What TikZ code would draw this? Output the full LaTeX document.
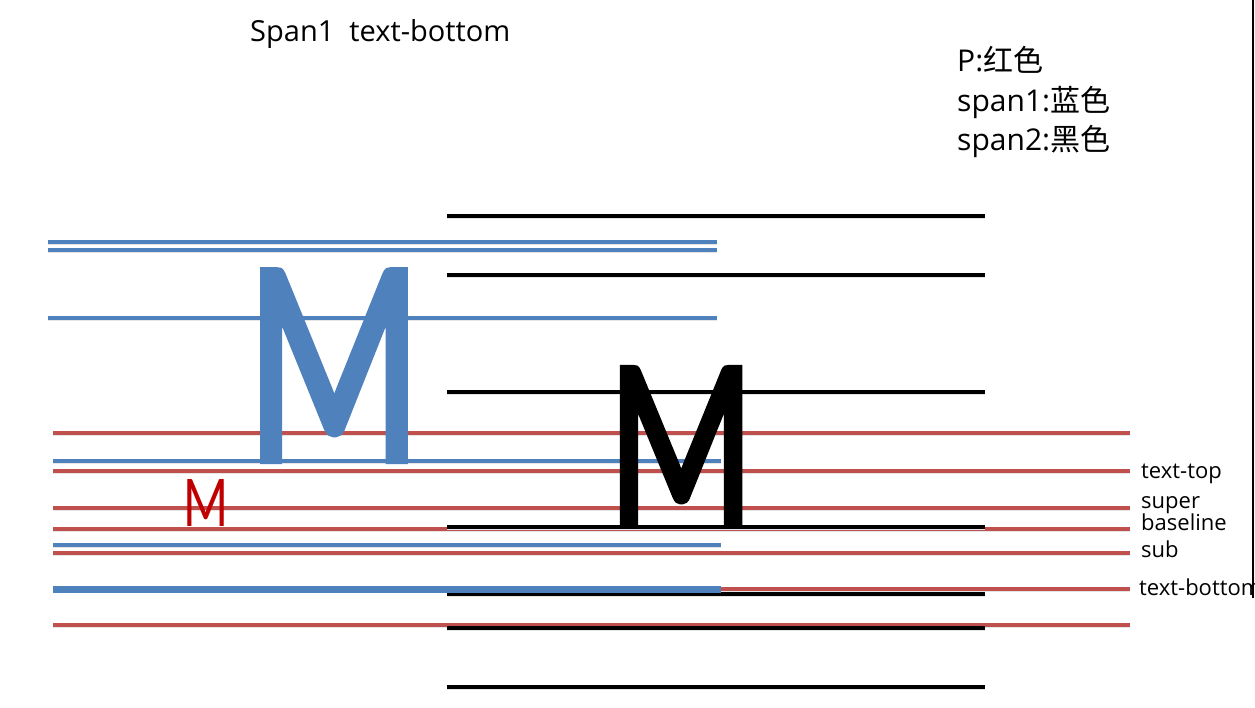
\documentclass[tikz,border=0pt]{standalone}
\usepackage{graphicx}
\usepackage{fontspec}
\setmainfont{Open Sans}
\newfontfamily\cjk{Noto Sans CJK SC}
\newfontfamily\glyphfont{Carlito}
\newfontfamily\glyphheavy{Carlito}[FakeBold=3]
\definecolor{spanblue}{HTML}{4F81BD}
\definecolor{pred}{HTML}{C0504D}
\definecolor{mred}{HTML}{C00000}
\tikzset{
  shadowed/.style={preaction={draw=black!10,transform canvas={yshift=-2.5pt}}},
  pline/.style={draw=pred,line width=3.5pt,shadowed},
  spanline/.style={draw=spanblue,line width=3.5pt,shadowed},
  blackline/.style={draw=black,line width=4pt,shadowed},
  levellabel/.style={anchor=base west,inner sep=0pt,font=\fontsize{22}{26}\selectfont},
  legend/.style={anchor=base west,inner sep=0pt,font=\fontsize{30}{36}\selectfont}
}
\begin{document}
\begin{tikzpicture}[x=1pt,y=-1pt,line cap=butt]
  \useasboundingbox (0,0) rectangle (1255,708);
  % red lines of P
  \foreach \y in {433,471,508,529,553,589,625}
    \draw[pline] (53,\y) -- (1130,\y);
  % black lines of span2
  \foreach \y in {216,275,392,527,594,628,687}
    \draw[blackline] (447,\y) -- (985,\y);
  % blue lines of span1
  \foreach \y in {242,250,318}
    \draw[spanline] (48,\y) -- (717,\y);
  \foreach \y in {461,545}
    \draw[spanline] (53,\y) -- (721,\y);
  \draw[spanline,line width=7pt] (53,589) -- (721,589);
  \draw[line width=2pt] (1253,0) -- (1253,598);
  % letters
  \node[inner sep=0pt,anchor=south,text=spanblue] (bigM) at (334,460)
    {\resizebox{175pt}{188pt}{\glyphheavy M}};
  \node[inner sep=0pt,anchor=south,text=black] (midM) at (681,523)
    {\resizebox{145pt}{154pt}{\glyphheavy M}};
  \node[inner sep=0pt,anchor=south,text=mred] (smallM) at (206,527)
    {\resizebox{45pt}{47pt}{\glyphfont M}};
  % texts
  \node[anchor=base west,inner sep=0pt,font=\fontsize{29}{34}\selectfont] (title) at (250,42) {Span1\ \ text-bottom};
  \node[legend] (legP) at (957,72) {P:{\cjk 红色}};
  \node[legend] (legA) at (957,112) {span1:{\cjk 蓝色}};
  \node[legend] (legB) at (957,151) {span2:{\cjk 黑色}};
  \node[levellabel] (labTop) at (1141,478) {text-top};
  \node[levellabel] (labSuper) at (1141,508) {super};
  \node[levellabel] (labBase) at (1141,530) {baseline};
  \node[levellabel] (labSub) at (1141,557) {sub};
  \node[levellabel] (labBottom) at (1139,595) {text-bottom};
\end{tikzpicture}
\end{document}
